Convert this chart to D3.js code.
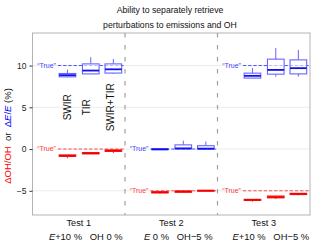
<!DOCTYPE html>
<html><head><meta charset="utf-8">
<script src="https://cdn.jsdelivr.net/npm/d3@7"></script>
<style>body{margin:0;background:#fff}svg{display:block;font-family:"Liberation Sans",Arial,sans-serif}</style>
</head><body><svg id="c" width="320" height="246"></svg>
<script>
const tests = ["Test 1","Test 2","Test 3"];
const testE = ["+10 %", " 0 %", "+10 %"];
const testOH = ["OH 0 %", "OH\u22125 %", "OH\u22125 %"];
const trueE = [10, 0, 10];
const trueOH = [0, -5, -5];
const instruments = ["SWIR","TIR","SWIR+TIR"];
const yTicks = [10, 5, 0, -5];
// [lo, q1, median, q3, hi] per test, per instrument
const boxE = [
  [[8.6,8.65,8.85,9.05,9.5],[9.0,9.0,9.4,10.2,11.0],[9.0,9.1,9.55,10.2,10.8]],
  [[-0.1,-0.08,-0.03,0.03,0.05],[0.0,0.02,0.08,0.5,1.0],[-0.03,0.0,0.05,0.4,0.9]],
  [[8.5,8.5,8.77,9.09,9.7],[8.68,8.97,9.48,10.77,12.1],[8.68,9.0,9.69,10.68,11.88]]
];
const boxOH = [
  [[-1.1,-0.88,-0.8,-0.7,-0.7],[-0.6,-0.58,-0.5,-0.42,-0.42],[-0.5,-0.28,-0.2,-0.1,-0.05]],
  [[-5.4,-5.25,-5.18,-5.1,-5.08],[-5.25,-5.18,-5.1,-5.02,-5.0],[-5.05,-5.04,-4.99,-4.95,-4.93]],
  [[-6.3,-6.15,-6.1,-6.02,-6.0],[-6.0,-5.85,-5.75,-5.62,-5.6],[-5.55,-5.45,-5.38,-5.3,-5.28]]
];

const svg = d3.select("#c");
const L=32.5, R=310, T=33, B=215;
const x = d3.scaleLinear().domain([0.5,3.5]).range([L,R]);
const y = d3.scaleLinear().domain([-7.9,13.9]).range([B,T]);
const offs = [-0.122, 0.13, 0.374];
const bw = 0.09;
const blue="#0000ff", red="#ff0000";

// grid
svg.append("g").selectAll("line").data(yTicks).join("line")
  .attr("x1",L).attr("x2",R).attr("y1",d=>y(d)).attr("y2",d=>y(d))
  .attr("stroke","#ebebeb").attr("stroke-width",1);

// separators
svg.append("g").selectAll("line").data([1.5,2.5]).join("line")
  .attr("x1",d=>x(d)).attr("x2",d=>x(d)).attr("y1",T).attr("y2",B)
  .attr("stroke","#a0a0a0").attr("stroke-width",1.2).attr("stroke-dasharray","4.5,7.5");

// true lines and labels
function trueLayer(vals,col,tcol){
  const g=svg.append("g");
  vals.forEach((v,i)=>{
    const gx=i+1;
    g.append("line").attr("x1",x(gx-0.225)).attr("x2",x(gx+0.5)).attr("y1",y(v)).attr("y2",y(v))
      .attr("stroke",col).attr("stroke-width",1).attr("stroke-dasharray","3.3,1.9");
    g.append("text").attr("x",x(gx-0.45)).attr("y",y(v)).attr("dy","0.35em")
      .attr("font-size",7).attr("fill",tcol).text("\u201cTrue\u201d");
  });
}
trueLayer(trueE,"#5050ff","#4646ff");
trueLayer(trueOH,"#ff4a4a","#ff4040");

function boxes(data,col,light){
  const g=svg.append("g");
  data.forEach((grp,i)=>grp.forEach((b,j)=>{
    const cx=i+1+offs[j];
    g.append("line").attr("x1",x(cx)).attr("x2",x(cx)).attr("y1",y(b[0])).attr("y2",y(b[1]))
      .attr("stroke",light).attr("stroke-width",1);
    g.append("line").attr("x1",x(cx)).attr("x2",x(cx)).attr("y1",y(b[3])).attr("y2",y(b[4]))
      .attr("stroke",light).attr("stroke-width",1);
    g.append("rect").attr("x",x(cx-bw)).attr("width",x(cx+bw)-x(cx-bw))
      .attr("y",y(b[3])).attr("height",Math.max(y(b[1])-y(b[3]),0.5))
      .attr("fill","#fff").attr("fill-opacity",0.6).attr("stroke",light).attr("stroke-width",1.1);
    g.append("line").attr("x1",x(cx-bw)).attr("x2",x(cx+bw)).attr("y1",y(b[2])).attr("y2",y(b[2]))
      .attr("stroke",col).attr("stroke-width",1.8);
  }));
}
boxes(boxE,"#1010ee","#6464ff");
boxes(boxOH,"#ee0000","#ff3030");

// instrument labels
const labOff=[-0.122,0.08,0.345];
svg.append("g").selectAll("text").data(instruments).join("text")
  .attr("transform",(d,j)=>`translate(${x(1+labOff[j])},${y(5.0)}) rotate(-90)`)
  .attr("text-anchor","middle").attr("dy","0.35em").attr("font-size",10).attr("fill","#111").text(d=>d);

// panel border
svg.append("rect").attr("x",L).attr("y",T).attr("width",R-L).attr("height",B-T)
  .attr("fill","none").attr("stroke","#b3b3b3").attr("stroke-width",1);

// y axis
const ya=svg.append("g").attr("transform",`translate(${L},0)`)
  .call(d3.axisLeft(y).tickValues(yTicks).tickSize(3).tickFormat(d=>d<0?"\u2212"+Math.abs(d):d));
ya.select(".domain").remove();
ya.selectAll("line").attr("stroke","#333");
ya.selectAll("text").attr("font-size",8.5).attr("fill","#222").attr("font-family","Liberation Sans,Arial,sans-serif");

// x labels
const xl=svg.append("g");
tests.forEach((t,i)=>{
  xl.append("text").attr("x",x(i+1)).attr("y",226).attr("text-anchor","middle").attr("font-size",9.2).attr("fill","#111").text(t);
  const tt=xl.append("text").attr("x",x(i+1)+7).attr("y",240).attr("text-anchor","middle").attr("font-size",9.4).attr("fill","#111").style("white-space","pre");
  tt.append("tspan").attr("font-style","italic").text("E");
  tt.append("tspan").text(testE[i]+"   "+testOH[i]);
});

// y title
const yt=svg.append("text").attr("transform","translate(11,136) rotate(-90)").attr("text-anchor","middle").attr("font-size",9.5).style("white-space","pre");
yt.append("tspan").attr("fill",red).text("\u0394OH/OH");
yt.append("tspan").attr("fill","#111").text("  or  ");
yt.append("tspan").attr("fill",blue).text("\u0394");
yt.append("tspan").attr("fill",blue).attr("font-style","italic").text("E");
yt.append("tspan").attr("fill",blue).text("/");
yt.append("tspan").attr("fill",blue).attr("font-style","italic").text("E");
yt.append("tspan").attr("fill","#111").text(" (%)");

// title
svg.append("text").attr("x",170).attr("y",12.5).attr("text-anchor","middle").attr("font-size",8.7).attr("fill","#111").text("Ability to separately retrieve");
svg.append("text").attr("x",170).attr("y",27.5).attr("text-anchor","middle").attr("font-size",8.7).attr("fill","#111").text("perturbations to emissions and OH");
</script></body></html>
